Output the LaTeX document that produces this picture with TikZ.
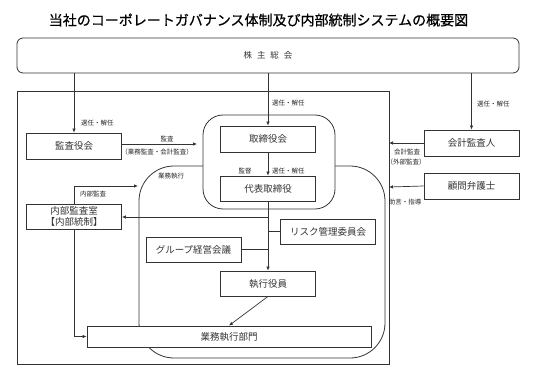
\documentclass[tikz,border=0pt]{standalone}
\usepackage{fontspec}
\setmainfont{Noto Sans CJK JP}
\newfontfamily\titlefont[FakeBold=0.6]{Noto Sans CJK JP}
\usetikzlibrary{arrows.meta}
\begin{document}
\begin{tikzpicture}[x=1pt,y=-1pt,
  box/.style={draw=black!80,line width=0.8pt,fill=white,minimum width=95pt,minimum height=26pt,inner sep=0pt,text=black!80,font=\fontsize{9.5}{11}\selectfont},
  lbl/.style={font=\fontsize{6.5}{7}\selectfont,inner sep=0pt,text=black!85},
  frame/.style={draw=black!80,line width=0.8pt},
  conn/.style={draw=black!80,line width=0.7pt},
  arr/.style={conn,-{Latex[length=4pt,width=3.5pt]}}]
\useasboundingbox (0,0) rectangle (533,377);

% title
\node[font=\titlefont\fontsize{14}{16}\selectfont,inner sep=0pt] (title) at (258.5,20) {当社のコーポレートガバナンス体制及び内部統制システムの概要図};

% shareholders meeting
\node[frame,rounded corners=6pt,minimum width=502pt,minimum height=35pt,inner sep=0pt,text=black!80,font=\fontsize{8.5}{10}\selectfont] (sh) at (268,55.5) {株\hspace{5pt}主\hspace{5pt}総\hspace{5pt}会};

% outer frame
\node[frame,minimum width=372pt,minimum height=273pt,inner sep=0pt] (outer) at (203,227.5) {};

% execution region
\node[frame,rounded corners=35pt,minimum width=246pt,minimum height=192pt,inner sep=0pt] (exec) at (262,262) {};

% board group
\node[frame,fill=white,rounded corners=20pt,minimum width=132pt,minimum height=94pt,inner sep=0pt] (grp) at (269,162) {};

% boxes
\node[box] (kansa) at (74,146) {監査役会};
\node[box,minimum height=25pt,align=center,font=\fontsize{9.5}{11.5}\selectfont] (naibu) at (74,216.5) {内部監査室\\【内部統制】};
\node[box] (tori) at (268,139) {取締役会};
\node[box,minimum height=25pt] (daihyo) at (268,188.5) {代表取締役};
\node[box,minimum height=25pt] (risk) at (328,231.5) {リスク管理委員会};
\node[box,minimum height=25pt] (group) at (193.5,249.5) {グループ経営会議};
\node[box,minimum height=25pt] (shikko) at (268,283.5) {執行役員};
\node[box,minimum width=284pt,minimum height=21pt] (gyomu) at (229,336.5) {業務執行部門};
\node[box] (kaikei) at (471.5,143) {会計監査人};
\node[box] (komon) at (471.5,186) {顧問弁護士};

% coordinates
\coordinate (kansaEnd) at (197,144);
\coordinate (iaEnd) at (138,186);
\coordinate (outR1) at (389,143);
\coordinate (outR2) at (389,187);
\coordinate (b1) at (268,217);
\coordinate (b2) at (268,231.5);

% connectors from shareholders
\draw[arr] (sh.south -| kansa.north) -- (kansa.north);
\draw[arr] (sh.south -| tori.north) -- (tori.north);
\draw[arr] (sh.south -| kaikei.north) -- (kaikei.north);

% board
\draw[arr] (tori.south) -- (daihyo.north);
\draw[arr] (daihyo.south) -- (shikko.north);
\draw[arr] (b1) -- (b1 -| naibu.east);
\draw[conn] (b2) -- (risk.west);
\draw[conn] (group.east) -- (group.east -| daihyo.south);
\draw[arr] (shikko.south) -- (gyomu.north);

% audit
\draw[arr] ([yshift=2pt]kansa.east) -- (kansaEnd);
\draw[arr] (naibu.north) |- (iaEnd);
\draw[arr] (naibu.south) |- (gyomu.west);

% external
\draw[arr] (kaikei.west) -- (outR1);
\draw[arr] (komon.west) -- (outR2);

% labels
\node[lbl,anchor=west] (l1) at (81,123) {選任・解任};
\node[lbl,anchor=west] (l2) at (272,103) {選任・解任};
\node[lbl,anchor=west] (l3) at (477,104) {選任・解任};
\node[lbl] (l4) at (167,139) {監査};
\node[lbl] (l5) at (157,152.5) {（業務監査・会計監査）};
\node[lbl] (l6) at (245,171) {監督};
\node[lbl,anchor=west] (l7) at (272,171) {選任・解任};
\node[lbl] (l8) at (171,176) {業務執行};
\node[lbl,anchor=west] (l9) at (80,194) {内部監査};
\node[lbl] (l10) at (407,152) {会計監査};
\node[lbl] (l11) at (406,162) {（外部監査）};
\node[lbl] (l12) at (405,202) {助言・指導};
\end{tikzpicture}
\end{document}
